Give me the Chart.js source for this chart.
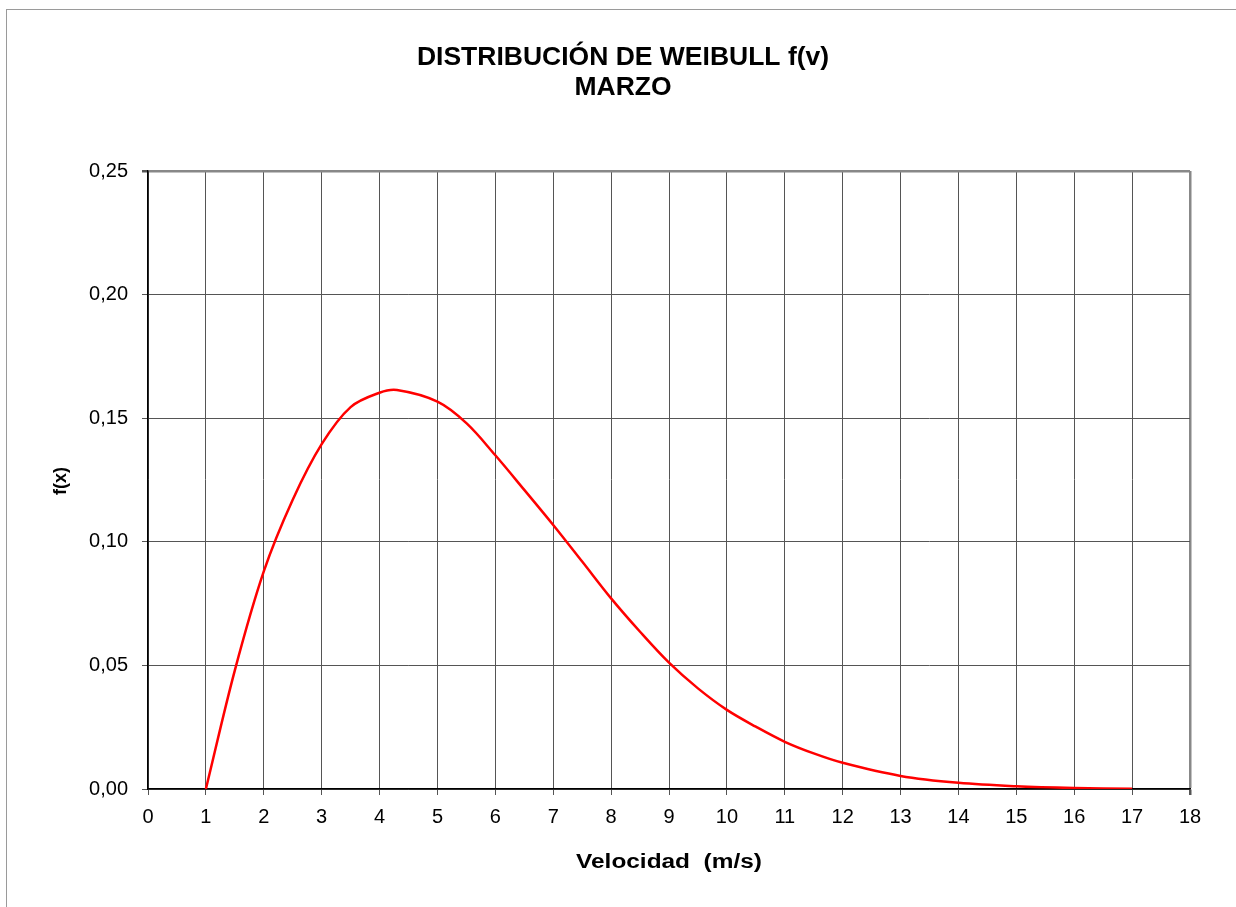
<!DOCTYPE html>
<html>
<head>
<meta charset="utf-8">
<script src="https://cdn.jsdelivr.net/npm/chart.js@4.4.1/dist/chart.umd.min.js"></script>
<style>
  html, body { margin: 0; padding: 0; background: #fff; }
  #wrap { position: relative; width: 1236px; height: 907px; overflow: hidden; }
  #frame { position: absolute; left: 6px; top: 9px; width: 1250px; height: 920px; border: 1px solid #9a9a9a; box-sizing: border-box; pointer-events: none; }
  canvas { position: absolute; left: 0; top: 0; }
</style>
</head>
<body>
<div id="wrap">
  <canvas id="c" width="1236" height="907"></canvas>
  <div id="frame"></div>
</div>
<script>
const titleLines = ["DISTRIBUCIÓN DE WEIBULL f(v)", "MARZO"];
const xTitle = "Velocidad  (m/s)";
const yTitle = "f(x)";
const velocity = [1, 1.5, 2, 2.5, 3, 3.5, 4, 4.3, 5, 5.5, 6, 6.5, 7, 7.5, 8, 8.5, 9, 9.5, 10, 10.5, 11, 11.5, 12, 13, 14, 15, 16, 17];
const density  = [0, 0.048, 0.088, 0.117, 0.1395, 0.1545, 0.1603, 0.1614, 0.1567, 0.148, 0.135, 0.121, 0.1068, 0.092, 0.0771, 0.0636, 0.0511, 0.0407, 0.032, 0.0252, 0.0191, 0.0144, 0.0106, 0.0053, 0.0025, 0.0011, 0.0004, 0.0001];
const xMin = 0, xMax = 18, xStep = 1;
const yMin = 0, yMax = 0.25, yStep = 0.05;

const points = velocity.map((v, i) => ({ x: v, y: density[i] }));
const FONT = '"Liberation Sans", Arial, sans-serif';

function stretchedText(ctx, text, x, y, font, sx) {
  ctx.save();
  ctx.font = font;
  ctx.translate(x, y);
  ctx.scale(sx, 1);
  ctx.fillText(text, 0, 0);
  ctx.restore();
}

const textPlugin = {
  id: 'texts',
  afterDraw(chart) {
    const ctx = chart.ctx;
    const a = chart.chartArea;
    ctx.save();
    ctx.fillStyle = '#000';
    ctx.textAlign = 'center';
    ctx.textBaseline = 'middle';
    stretchedText(ctx, titleLines[0], 623, 58, 'bold 25px ' + FONT, 1.06);
    stretchedText(ctx, titleLines[1], 623, 88, 'bold 25px ' + FONT, 1.06);
    stretchedText(ctx, xTitle, (a.left + a.right) / 2, 862, 'bold 20px ' + FONT, 1.22);
    ctx.translate(61, 481);
    ctx.rotate(-Math.PI / 2);
    stretchedText(ctx, yTitle, 0, 0, 'bold 18px ' + FONT, 1.0);
    ctx.restore();
  }
};

new Chart(document.getElementById('c'), {
  type: 'scatter',
  data: {
    datasets: [{
      data: points,
      showLine: true,
      borderColor: '#ff0000',
      backgroundColor: '#ff0000',
      borderWidth: 2.5,
      pointRadius: 0,
      tension: 0.35,
      fill: false
    }]
  },
  options: {
    responsive: false,
    animation: false,
    layout: { padding: { top: 171, left: 0, right: 46, bottom: 0 } },
    plugins: { legend: { display: false }, title: { display: false }, tooltip: { enabled: false } },
    scales: {
      x: {
        type: 'linear', min: xMin, max: xMax,
        afterFit(s) { s.height = 118; },
        ticks: { stepSize: xStep, color: '#000', font: { family: FONT, size: 20 }, padding: 10, maxRotation: 0 },
        grid: {
          color: c => c.tick && c.tick.value === xMax ? '#888' : '#555',
          lineWidth: c => c.tick && c.tick.value === xMax ? 2.5 : 1,
          tickLength: 6, tickColor: '#555'
        },
        border: { color: '#000', width: 1.5 }
      },
      y: {
        type: 'linear', min: yMin, max: yMax,
        afterFit(s) { s.width = 148; },
        ticks: {
          stepSize: yStep, color: '#000', padding: 14,
          font: { family: FONT, size: 20 },
          callback: v => v.toFixed(2).replace('.', ',')
        },
        grid: {
          color: c => c.tick && Math.abs(c.tick.value - yMax) < 1e-9 ? '#888' : '#555',
          lineWidth: c => c.tick && Math.abs(c.tick.value - yMax) < 1e-9 ? 2.5 : 1,
          tickLength: 6, tickColor: '#555'
        },
        border: { color: '#000', width: 1.5 }
      }
    }
  },
  plugins: [textPlugin]
});
</script>
</body>
</html>
